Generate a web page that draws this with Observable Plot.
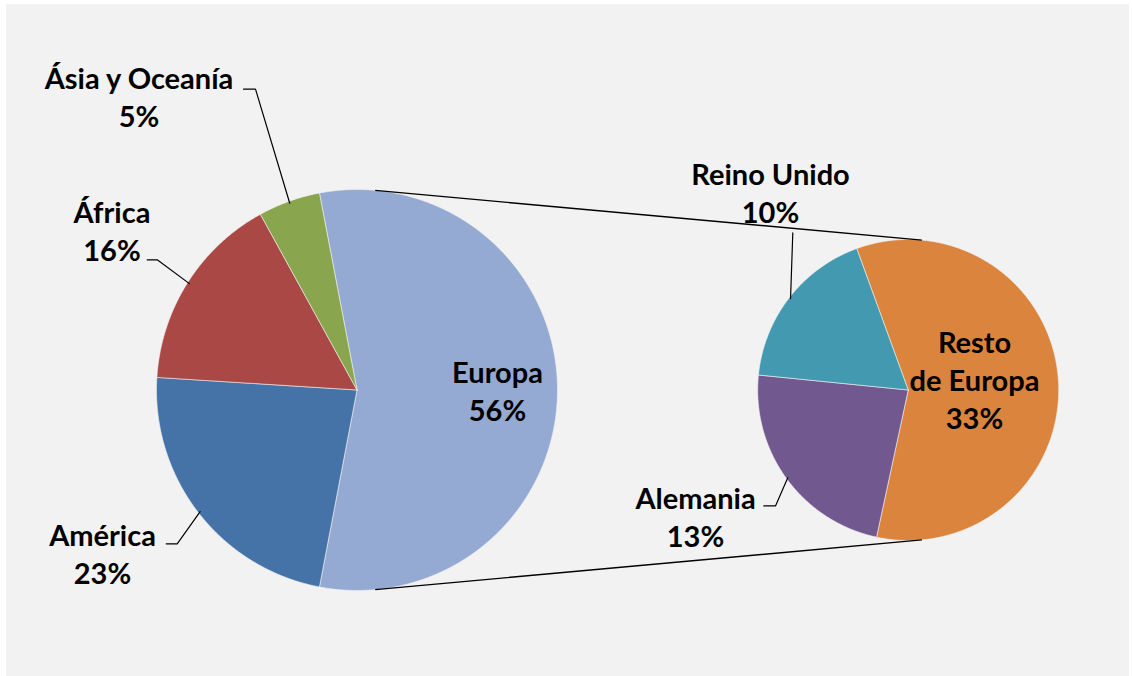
<!DOCTYPE html>
<html>
<head>
<meta charset="utf-8">
<script src="https://cdn.jsdelivr.net/npm/d3@7"></script>
<script src="https://cdn.jsdelivr.net/npm/@observablehq/plot@0.6"></script>
<style>
  html, body { margin: 0; padding: 0; background: #ffffff; }
  #chart svg {
    display: block;
    background: linear-gradient(#f2f2f2, #f2f2f2) no-repeat;
    background-position: 6px 4px;
    background-size: 1123px 672px;
  }
</style>
</head>
<body>
<div id="chart"></div>
<script>
// ---- data ----
const mainNames  = ["Europa", "América", "África", "Ásia y Oceanía"];
const mainValues = [56, 23, 16, 5];
const mainColors = ["#95aad2", "#4573a7", "#a94845", "#89a54e"];

const subNames  = ["Resto de Europa", "Alemania", "Reino Unido"];
const subLabels = ["Resto\nde Europa", "Alemania", "Reino Unido"];
const subValues = [33, 13, 10];
const subColors = ["#db843d", "#71588f", "#4299b0"];

const mainLabels = ["Europa", "América", "África", "Ásia y Oceanía"];

// ---- layout (pixels per unit, pie geometry, label placement) ----
const K = 200.5;                       // px per main-pie radius
const W = 1132, H = 676;
const C1 = {px: 356.5, py: 389.5};     // main pie centre (px)
const geom = {
  main: {cx: 0, cy: 0, r: 1},
  sub:  {cx: 551.2 / K, cy: 0, r: 150.5 / K}
};
const deg = Math.PI / 180;
const subStart = -20 * deg;
const FS = 29;

// label anchor: centre x / baseline of last line, px offsets from the pie centre
const labelLayout = {
  "Europa":          {dx: 140.5,  dy: -30.5},
  "América":         {dx: -254.5, dy: -193.8},
  "África":          {dx: -245,   dy: 128.8},
  "Ásia y Oceanía":  {dx: -218,   dy: 263.5},
  "Resto de Europa": {dx: 66.3,   dy: -38.5},
  "Alemania":        {dx: -212.7, dy: -156.9},
  "Reino Unido":     {dx: -137.7, dy: 167.1}
};
// leader polyline start points (px offsets from pie centre), ends on slice edge
const leaderLayout = {
  "América":        [[-190.8, -153.8], [-179.8, -153.8]],
  "África":         [[-209.8, 130.2], [-199.8, 130.2]],
  "Ásia y Oceanía": [[-113.5, 300.8], [-101.5, 300.8]],
  "Alemania":       [[-144.4, -115.9], [-132.7, -115.9]],
  "Reino Unido":    [[-115.4, 157.1]]
};

// ---- geometry from data ----
const mainTotal = d3.sum(mainValues);
const mainStart = Math.PI / 2 - Math.PI * mainValues[0] / mainTotal;
const mainArcs = d3.pie().sort(null).value(d => d.value)
  .startAngle(mainStart).endAngle(mainStart + 2 * Math.PI)(
    mainNames.map((name, i) => ({name, value: mainValues[i], label: mainLabels[i]})));
const subArcs = d3.pie().sort(null).value(d => d.value)
  .startAngle(subStart).endAngle(subStart + 2 * Math.PI)(
    subNames.map((name, i) => ({name, value: subValues[i], label: subLabels[i]})));

const polar = (g, a, rf = 1) => [g.cx + g.r * rf * Math.sin(a), g.cy + g.r * rf * Math.cos(a)];

function slicePoints(arcs, g) {
  const pts = [];
  for (const a of arcs) {
    const n = Math.max(4, Math.ceil((a.endAngle - a.startAngle) / deg * 2));
    pts.push({name: a.data.name, x: g.cx, y: g.cy});
    for (let i = 0; i <= n; ++i) {
      const t = a.startAngle + (a.endAngle - a.startAngle) * i / n;
      const [x, y] = polar(g, t);
      pts.push({name: a.data.name, x, y});
    }
    pts.push({name: a.data.name, x: g.cx, y: g.cy});
  }
  return pts;
}
const slices = [...slicePoints(mainArcs, geom.main), ...slicePoints(subArcs, geom.sub)];

// connector lines: external tangents of the two circles
const dC = geom.sub.cx - geom.main.cx;
const alpha = Math.asin((geom.main.r - geom.sub.r) / dC);
const connectors = [1, -1].map(s => ({
  x1: geom.main.cx + geom.main.r * Math.sin(alpha), y1: s * geom.main.r * Math.cos(alpha),
  x2: geom.sub.cx + geom.sub.r * Math.sin(alpha),   y2: s * geom.sub.r * Math.cos(alpha)
}));

// labels
const allArcs = [...mainArcs.map(a => ({a, g: geom.main})), ...subArcs.map(a => ({a, g: geom.sub}))];
const labels = allArcs.map(({a, g}) => {
  const L = labelLayout[a.data.name];
  return {
    name: a.data.name,
    x: g.cx + L.dx / K, y: g.cy + L.dy / K,
    text: `${a.data.label}\n${a.data.value}%`
  };
});
const leaders = [];
for (const {a, g} of allArcs) {
  const seg = leaderLayout[a.data.name];
  if (!seg) continue;
  for (const [dx, dy] of seg) leaders.push({name: a.data.name, x: g.cx + dx / K, y: g.cy + dy / K});
  const [ex, ey] = polar(g, (a.startAngle + a.endAngle) / 2, 0.99);
  leaders.push({name: a.data.name, x: ex, y: ey});
}

const chart = Plot.plot({
  width: W, height: H, margin: 0,
  x: {domain: [-C1.px / K, (W - C1.px) / K], axis: null},
  y: {domain: [-(H - C1.py) / K, C1.py / K], axis: null},
  color: {domain: [...mainNames, ...subNames], range: [...mainColors, ...subColors]},
  style: {overflow: "visible"},
  marks: [
    Plot.line(slices, {x: "x", y: "y", z: "name", fill: "name", stroke: "#f2f2f2", strokeWidth: 0.6, curve: "linear"}),
    Plot.link(connectors, {x1: "x1", y1: "y1", x2: "x2", y2: "y2", stroke: "black", strokeWidth: 1.4}),
    Plot.line(leaders, {x: "x", y: "y", z: "name", stroke: "black", strokeWidth: 1.2, curve: "linear"}),
    Plot.text(labels, {
      x: "x", y: "y", text: "text",
      textAnchor: "middle", lineAnchor: "bottom", lineHeight: 38 / FS,
      fontSize: FS, fontWeight: "bold", fontFamily: "Lato", fill: "black"
    })
  ]
});
document.getElementById("chart").append(chart);
</script>
</body>
</html>
